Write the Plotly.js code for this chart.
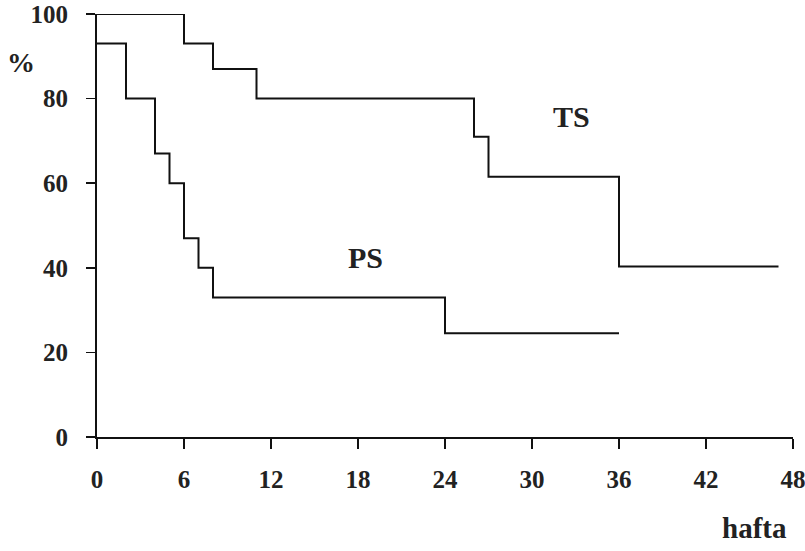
<!DOCTYPE html>
<html>
<head>
<meta charset="utf-8">
<script src="https://cdn.plot.ly/plotly-3.0.1.min.js"></script>
<style>html,body{margin:0;padding:0;background:#fff;}#chart{width:805px;height:551px;}</style>
</head>
<body>
<div id="chart"></div>
<script>
// Time in weeks (hafta) and survival percentages
const tsWeeks = [0, 6, 8, 11, 26, 27, 36, 47];
const tsValues = [100, 93, 87, 80, 71, 61.5, 40.3, 40.3];
const psWeeks = [0, 2, 4, 5, 6, 7, 8, 24, 36];
const psValues = [93, 80, 67, 60, 47, 40, 33, 24.5, 24.5];
const xTicks = [0, 6, 12, 18, 24, 30, 36, 42, 48];
const yTicks = [0, 20, 40, 60, 80, 100];

const fontFam = 'Liberation Serif, Times New Roman, serif';
const tickFont = {family: fontFam, size: 25, color: '#222'};

const traces = [
  {x: tsWeeks, y: tsValues, mode: 'lines', line: {shape: 'hv', color: '#111', width: 2}, name: 'TS', hoverinfo: 'x+y'},
  {x: psWeeks, y: psValues, mode: 'lines', line: {shape: 'hv', color: '#111', width: 2}, name: 'PS', hoverinfo: 'x+y'}
];

const layout = {
  width: 805, height: 551,
  margin: {l: 97, r: 12, t: 14, b: 114},
  paper_bgcolor: '#fff', plot_bgcolor: '#fff',
  showlegend: false,
  font: {family: fontFam},
  xaxis: {
    range: [0, 48], tickvals: xTicks, ticktext: xTicks.map(v => '<b>' + v + '</b>'),
    showgrid: false, zeroline: false, showline: true, linecolor: '#111', linewidth: 2,
    ticks: 'outside', ticklen: 10, tickwidth: 1.5, tickcolor: '#111',
    tickfont: tickFont, ticklabelstandoff: 9, ticklabeloverflow: 'allow', fixedrange: true
  },
  yaxis: {
    range: [0, 100], tickvals: yTicks, ticktext: yTicks.map(v => '<b>' + v + '</b>'),
    showgrid: false, zeroline: false, showline: true, linecolor: '#111', linewidth: 2,
    ticks: 'outside', ticklen: 9, tickwidth: 1.5, tickcolor: '#111',
    tickfont: tickFont, ticklabelstandoff: 13, ticklabeloverflow: 'allow', fixedrange: true
  },
  annotations: [
    {text: '<b>TS</b>', x: 32.75, y: 75.7, xref: 'x', yref: 'y', showarrow: false,
     xanchor: 'center', yanchor: 'middle',
     font: {family: fontFam, size: 30, color: '#222'}},
    {text: '<b>PS</b>', x: 18.5, y: 42.5, xref: 'x', yref: 'y', showarrow: false,
     xanchor: 'center', yanchor: 'middle',
     font: {family: fontFam, size: 30, color: '#222'}},
    {text: '<b>%</b>', x: (21 - 97) / 696, y: (437 - 62) / 423, xref: 'paper', yref: 'paper', showarrow: false,
     xanchor: 'center', yanchor: 'middle',
     font: {family: fontFam, size: 28, color: '#222'}},
    {text: '<b>hafta</b>', x: (754.5 - 97) / 696, y: (437 - 528) / 423, xref: 'paper', yref: 'paper', showarrow: false,
     xanchor: 'center', yanchor: 'middle',
     font: {family: fontFam, size: 29, color: '#222'}}
  ]
};

Plotly.newPlot('chart', traces, layout, {displayModeBar: false, staticPlot: true});
</script>
</body>
</html>
